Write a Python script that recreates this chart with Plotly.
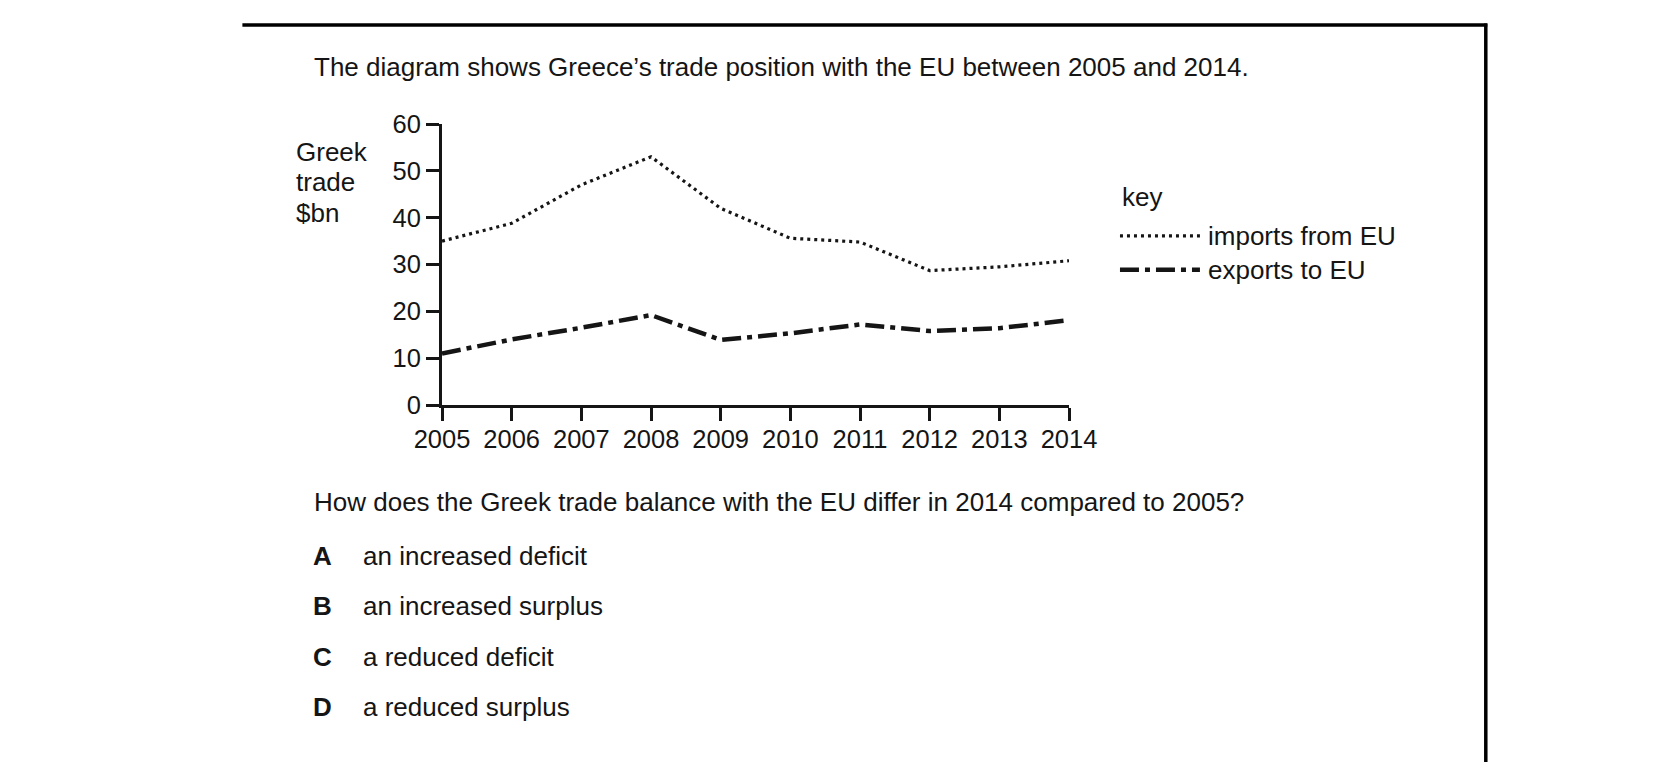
import plotly.graph_objects as go

# ---- data ----
years = [2005, 2006, 2007, 2008, 2009, 2010, 2011, 2012, 2013, 2014]
imports_from_eu = [35.0, 38.8, 47.0, 53.0, 42.0, 35.6, 34.8, 28.7, 29.5, 30.8]
exports_to_eu = [11.0, 14.0, 16.5, 19.2, 13.9, 15.3, 17.2, 15.8, 16.4, 18.1]
y_ticks = [0, 10, 20, 30, 40, 50, 60]
series_names = ["imports from EU", "exports to EU"]

title_text = "The diagram shows Greece\u2019s trade position with the EU between 2005 and 2014."
question_text = "How does the Greek trade balance with the EU differ in 2014 compared to 2005?"
option_letters = ["A", "B", "C", "D"]
option_texts = ["an increased deficit", "an increased surplus", "a reduced deficit", "a reduced surplus"]
y_title_lines = ["Greek", "trade", "$bn"]

# ---- page geometry (pixels) ----
W, H = 1656, 762
PL, PR = 441.7, 1069.0   # plot left/right
PT, PB = 124.0, 405.3    # plot top/bottom
FONT = "Arial, 'Liberation Sans', sans-serif"
INK = "#151515"
TXT = 26

IMP_DASH = "3px,4px"
EXP_DASH = "19px,6px,5px,6px"


def px(x):
    return (x - PL) / (PR - PL)


def py(y):
    return (PB - y) / (PB - PT)


fig = go.Figure()
fig.add_trace(go.Scatter(x=years, y=imports_from_eu, mode="lines", name=series_names[0],
                         line=dict(color=INK, width=3.2, dash=IMP_DASH), showlegend=False))
fig.add_trace(go.Scatter(x=years, y=exports_to_eu, mode="lines", name=series_names[1],
                         line=dict(color=INK, width=4.5, dash=EXP_DASH), showlegend=False))

axis_common = dict(showgrid=False, zeroline=False, showline=True, linecolor=INK, linewidth=3,
                   ticks="outside", ticklen=13, tickwidth=3, tickcolor=INK,
                   tickfont=dict(family=FONT, size=25.5, color=INK))
fig.update_xaxes(range=[years[0], years[-1]], tickvals=years, ticklabelstandoff=-4, **axis_common)
fig.update_yaxes(range=[y_ticks[0], y_ticks[-1]], tickvals=y_ticks, **axis_common)

annotations = []


def text(x, y, s, size=TXT, bold=False):
    annotations.append(dict(xref="paper", yref="paper", x=px(x), y=py(y), text=("<b>%s</b>" % s) if bold else s,
                            showarrow=False, xanchor="left", yanchor="middle",
                            font=dict(family=FONT, size=size, color=INK)))


text(312, 67, title_text)
for line, yy in zip(y_title_lines, [152, 182, 213]):
    text(294, yy, line)
text(312, 502, question_text)
for i, (letter, t) in enumerate(zip(option_letters, option_texts)):
    yy = 556 + i * 50.7
    text(311, yy, letter, bold=True)
    text(361, yy, t)

# legend (key)
text(1120, 197, "key")
text(1206, 236, series_names[0])
text(1206, 270, series_names[1])

shapes = [
    dict(type="line", xref="paper", yref="paper", x0=px(1120), x1=px(1200), y0=py(236), y1=py(236),
         line=dict(color=INK, width=3.2, dash=IMP_DASH)),
    dict(type="line", xref="paper", yref="paper", x0=px(1120), x1=px(1200), y0=py(270), y1=py(270),
         line=dict(color=INK, width=4.5, dash=EXP_DASH)),
    # frame
    dict(type="line", xref="paper", yref="paper", x0=px(242), x1=px(1487.5), y0=py(25), y1=py(25),
         line=dict(color="#000", width=3.5)),
    dict(type="line", xref="paper", yref="paper", x0=px(1486), x1=px(1486), y0=py(23.3), y1=py(770),
         line=dict(color="#000", width=3.5)),
]

fig.update_layout(
    width=W, height=H,
    margin=dict(l=PL, r=W - PR, t=PT, b=H - PB, pad=0),
    paper_bgcolor="white", plot_bgcolor="white",
    annotations=annotations, shapes=shapes,
    showlegend=False,
)

fig.write_html("out.html")
